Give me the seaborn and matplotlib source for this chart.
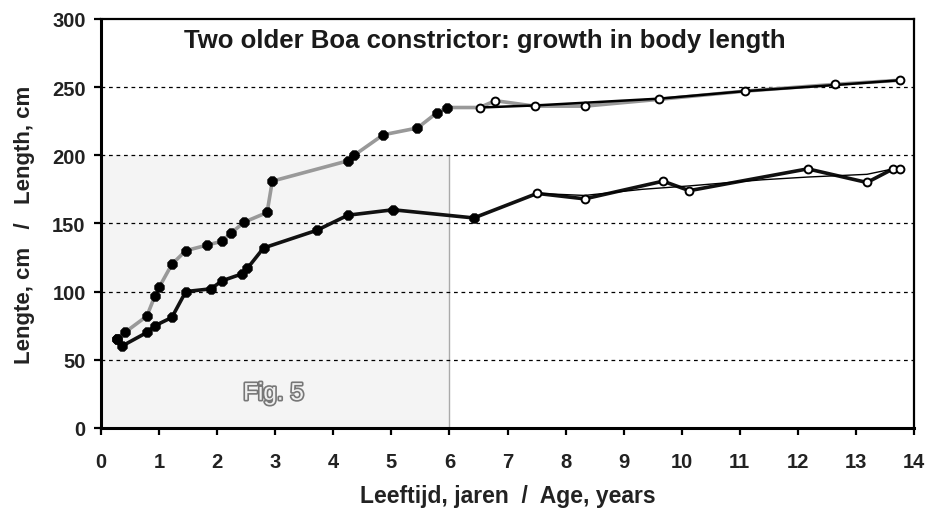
import matplotlib
matplotlib.use("Agg")
import matplotlib.pyplot as plt
import matplotlib.patheffects as pe
from matplotlib.patches import Rectangle
import seaborn as sns

# Snake A (grey line) - measured points
age_a_young = [0.27, 0.41, 0.79, 0.93, 1.00, 1.22, 1.46, 1.82, 2.09, 2.24,
               2.47, 2.86, 2.95, 4.26, 4.36, 4.86, 5.45, 5.78, 5.95]
len_a_young = [65, 70, 82, 97, 103, 120, 130, 134, 137, 143,
               151, 158, 181, 196, 200, 215, 220, 231, 235]
age_a_old = [6.52, 6.79, 7.47, 8.33, 9.61, 11.09, 12.64, 13.76]
len_a_old = [235, 240, 236, 236, 241, 247, 252, 255]
trend_a_age = [6.52, 7.47, 8.33, 9.61, 11.09, 12.64, 13.76]
trend_a_len = [235, 236.5, 238.5, 241.5, 247, 251.5, 255]

# Snake B (black line)
age_b_young = [0.27, 0.36, 0.79, 0.93, 1.22, 1.46, 1.89, 2.09, 2.43, 2.52,
               2.80, 3.72, 4.25, 5.03, 6.42]
len_b_young = [65, 60, 70, 75, 81, 100, 102, 108, 113, 117,
               132, 145, 156, 160, 154]
age_b_old = [7.51, 8.33, 9.68, 10.13, 12.17, 13.19, 13.64, 13.76]
len_b_old = [172, 168, 181, 174, 190, 180, 190, 190]
trend_b_age = [7.51, 8.33, 9.32, 10.13, 11.39, 12.17, 13.19, 13.64]
trend_b_len = [172, 170.5, 175, 177.5, 182, 184, 186, 190]

x_ticks = list(range(0, 15))
y_ticks = [0, 50, 100, 150, 200, 250, 300]

sns.set_style("white")
plt.rcParams["font.family"] = ["Liberation Sans", "DejaVu Sans"]

fig = plt.figure(figsize=(9.3, 5.1), dpi=100)
ax = fig.add_axes([0.1086, 0.159, 0.8742, 0.802])

# shaded juvenile area
ax.add_patch(Rectangle((0, 0), 6, 200, facecolor="#f4f4f4",
                       edgecolor="none", zorder=0))
ax.plot([6, 6], [0, 200], color="#aaaaaa", lw=1, zorder=1)

for yv in y_ticks[1:-1]:
    ax.axhline(yv, color="black", lw=0.9, ls=(0, (3, 3)), zorder=1)

grey = "#999999"
age_a = age_a_young + age_a_old
len_a = len_a_young + len_a_old
age_b = age_b_young + age_b_old
len_b = len_b_young + len_b_old

sns.lineplot(x=age_a, y=len_a, sort=False, estimator=None, color=grey,
             lw=2.6, ax=ax, zorder=2)
sns.lineplot(x=trend_a_age, y=trend_a_len, sort=False, estimator=None,
             color="black", lw=1.8, ax=ax, zorder=3)
sns.lineplot(x=age_b, y=len_b, sort=False, estimator=None, color="#111111",
             lw=2.6, ax=ax, zorder=2)
sns.lineplot(x=trend_b_age, y=trend_b_len, sort=False, estimator=None,
             color="black", lw=1.0, ax=ax, zorder=3)

# filled markers (young), open markers (older)
for xs, ys in [(age_a_young, len_a_young), (age_b_young, len_b_young)]:
    sns.scatterplot(x=xs, y=ys, marker="8", s=55, color="black",
                    edgecolor="black", linewidth=0.5, ax=ax, zorder=4)
for xs, ys in [(age_a_old, len_a_old), (age_b_old, len_b_old)]:
    sns.scatterplot(x=xs, y=ys, marker="o", s=32, facecolor="white",
                    edgecolor="black", linewidth=1.4, ax=ax, zorder=4)

ax.set_xlim(0, 14)
ax.set_ylim(0, 300)
ax.set_xticks(x_ticks)
ax.set_yticks(y_ticks)
ax.tick_params(axis="both", direction="out", length=5, width=1.6,
               color="black", labelsize=14.5, pad=6, bottom=True, left=True)
ax.tick_params(axis="x", pad=12)
for lab in ax.get_xticklabels() + ax.get_yticklabels():
    lab.set_fontweight("bold")
    lab.set_color("#222222")
for sp in ax.spines.values():
    sp.set_visible(True)
    sp.set_color("black")
    sp.set_linewidth(2.2)
ax.spines["right"].set_linewidth(1.6)
ax.spines["top"].set_linewidth(1.6)

ax.set_xlabel("Leeftijd, jaren  /  Age, years", fontsize=16.5,
              fontweight="bold", color="#222222", labelpad=10)
ax.set_ylabel("Lengte, cm   /   Length, cm", fontsize=16,
              fontweight="bold", color="#222222", labelpad=12)

ax.text(0.472, 0.948, "Two older Boa constrictor: growth in body length",
        transform=ax.transAxes, ha="center", va="center", fontsize=18.5,
        fontweight="bold", color="#1a1a1a")

fig_txt = ax.text(2.97, 25, "Fig. 5", ha="center", va="center",
                  fontsize=17.5, color="#f0f0f0", zorder=5)
fig_txt.set_path_effects([pe.Stroke(linewidth=2.4, foreground="#777777"),
                          pe.Normal()])

plt.savefig("out.png", dpi=100)
plt.close()
